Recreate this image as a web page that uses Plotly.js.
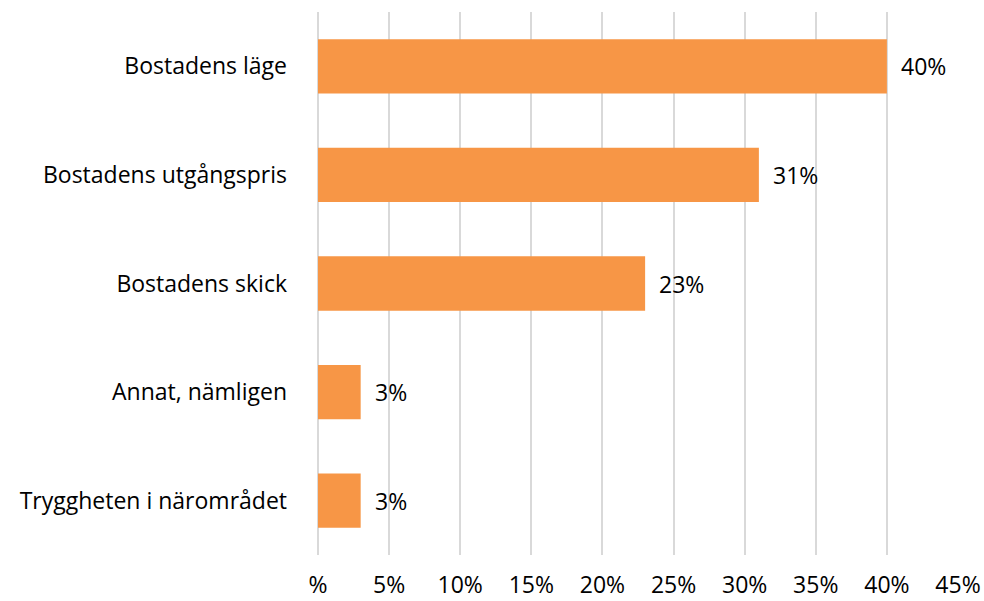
<!DOCTYPE html>
<html>
<head>
<meta charset="utf-8">
<script src="https://cdn.plot.ly/plotly-3.0.1.min.js"></script>
<style>
  html, body { margin: 0; padding: 0; background: #ffffff; }
  #chart { width: 984px; height: 601px; }
</style>
</head>
<body>
<div id="chart"></div>
<script>
// Categories listed bottom-to-top as Plotly draws a horizontal bar chart
const categories = [
  "Tryggheten i närområdet",
  "Annat, nämligen",
  "Bostadens skick",
  "Bostadens utgångspris",
  "Bostadens läge"
];
const shares = [3, 3, 23, 31, 40];   // percent of respondents
const tickValues = [0, 5, 10, 15, 20, 25, 30, 35, 40, 45];
const tickLabels = ["%", "5%", "10%", "15%", "20%", "25%", "30%", "35%", "40%", "45%"];

const FONT = "'Open Sans', 'Noto Sans', sans-serif";
const SIZE = 23;

const trace = {
  type: "bar",
  orientation: "h",
  y: categories,
  x: shares,
  marker: { color: "#F79646", line: { width: 0 } },
  hoverinfo: "none"
};

// Value labels placed just to the right of each bar end
const labels = categories.map((c, i) => ({
  x: shares[i],
  y: c,
  xref: "x",
  yref: "y",
  text: shares[i] + "%",
  showarrow: false,
  xanchor: "left",
  xshift: 12,
  font: { family: FONT, size: SIZE, color: "#000000" }
}));

const layout = {
  width: 984,
  height: 601,
  margin: { l: 318, r: 26, t: 12, b: 46 },
  paper_bgcolor: "#ffffff",
  plot_bgcolor: "#ffffff",
  showlegend: false,
  bargap: 0.5,
  font: { family: FONT, size: SIZE, color: "#000000" },
  xaxis: {
    range: [0, 45],
    tickvals: tickValues,
    ticktext: tickLabels,
    showgrid: true,
    gridcolor: "#d9d9d9",
    gridwidth: 2,
    zeroline: true,
    zerolinecolor: "#d9d9d9",
    zerolinewidth: 2,
    showline: false,
    ticks: "outside",
    ticklen: 9,
    tickcolor: "rgba(0,0,0,0)",
    tickfont: { family: FONT, size: SIZE, color: "#000000" },
    fixedrange: true
  },
  yaxis: {
    showgrid: false,
    zeroline: false,
    showline: false,
    ticks: "",
    ticklabelstandoff: 30,
    tickfont: { family: FONT, size: SIZE, color: "#000000" },
    fixedrange: true
  },
  annotations: labels
};

Plotly.newPlot("chart", [trace], layout, { displayModeBar: false, staticPlot: true });
</script>
</body>
</html>
